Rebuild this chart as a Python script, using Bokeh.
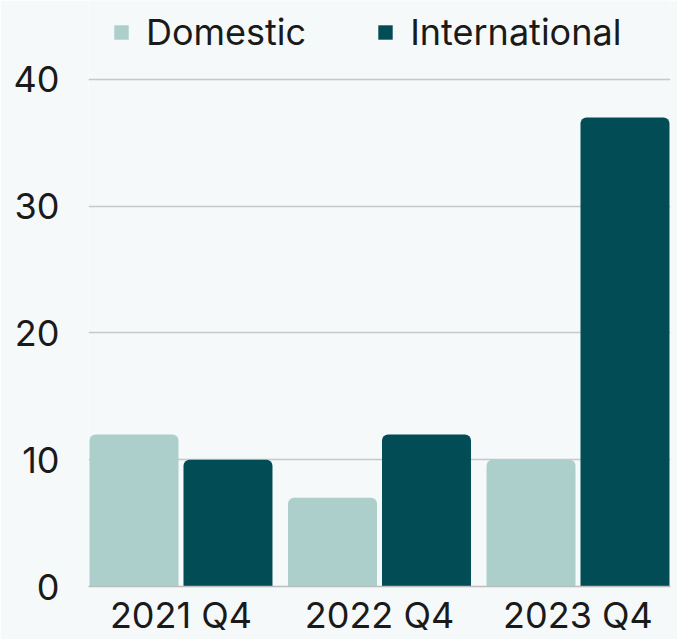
from bokeh.plotting import figure
from bokeh.models import ColumnDataSource, FactorRange, Range1d, FixedTicker, Legend, LegendItem
from bokeh.transform import dodge
from bokeh.embed import file_html
from bokeh.resources import INLINE

quarters = ["2021 Q4", "2022 Q4", "2023 Q4"]
domestic = [12, 7, 10]
international = [10, 12, 37]
y_ticks = [0, 10, 20, 30, 40]

BG = "#f5f9fa"
C_DOM = "#accfcc"
C_INT = "#024c55"
FONT = "Inter"
TXT = "#1a1a1a"

src = ColumnDataSource(dict(q=quarters, dom=domestic, intl=international))

p = figure(
    width=677, height=639,
    x_range=FactorRange(*quarters, factor_padding=0.073, range_padding=0),
    y_range=Range1d(0, 46.23),
    output_backend="svg", toolbar_location=None,
    min_border_left=88, min_border_right=7, min_border_top=0, min_border_bottom=53,
    background_fill_color=BG, border_fill_color=BG, outline_line_color=None,
)

r1 = p.vbar(x=dodge("q", -0.254, range=p.x_range), top="dom", width=0.481, source=src,
            fill_color=C_DOM, line_color=None, border_radius=(6, 6, 0, 0))
r2 = p.vbar(x=dodge("q", 0.254, range=p.x_range), top="intl", width=0.481, source=src,
            fill_color=C_INT, line_color=None, border_radius=(6, 6, 0, 0))

p.xgrid.grid_line_color = None
p.ygrid.ticker = FixedTicker(ticks=y_ticks)
p.ygrid.grid_line_color = "#c8c8c8"
p.ygrid.grid_line_width = 1.5

p.yaxis.ticker = FixedTicker(ticks=y_ticks)
p.yaxis.axis_line_color = None
p.yaxis.major_tick_line_color = None
p.yaxis.minor_tick_line_color = None
p.yaxis.major_tick_out = 0
p.yaxis.major_label_standoff = 29
p.yaxis.major_label_text_font = FONT
p.yaxis.major_label_text_font_size = "36px"
p.yaxis.major_label_text_color = TXT

p.xaxis.axis_line_color = "#bdbdbd"
p.xaxis.axis_line_width = 1.5
p.xaxis.major_tick_line_color = None
p.xaxis.major_tick_out = 0
p.xaxis.major_label_standoff = 6
p.xaxis.major_label_text_font = FONT
p.xaxis.major_label_text_font_size = "36px"
p.xaxis.major_label_text_color = TXT

legend = Legend(
    items=[LegendItem(label="Domestic", renderers=[r1]),
           LegendItem(label="International", renderers=[r2])],
    orientation="horizontal", location=(24, 532),
    margin=0, padding=0, spacing=70, label_standoff=16,
    glyph_width=18, glyph_height=18,
    background_fill_alpha=0, border_line_color=None,
    label_text_font=FONT, label_text_font_size="36px", label_text_color=TXT,
)
p.add_layout(legend, "center")

open("out.html", "w").write(file_html(p, INLINE))
